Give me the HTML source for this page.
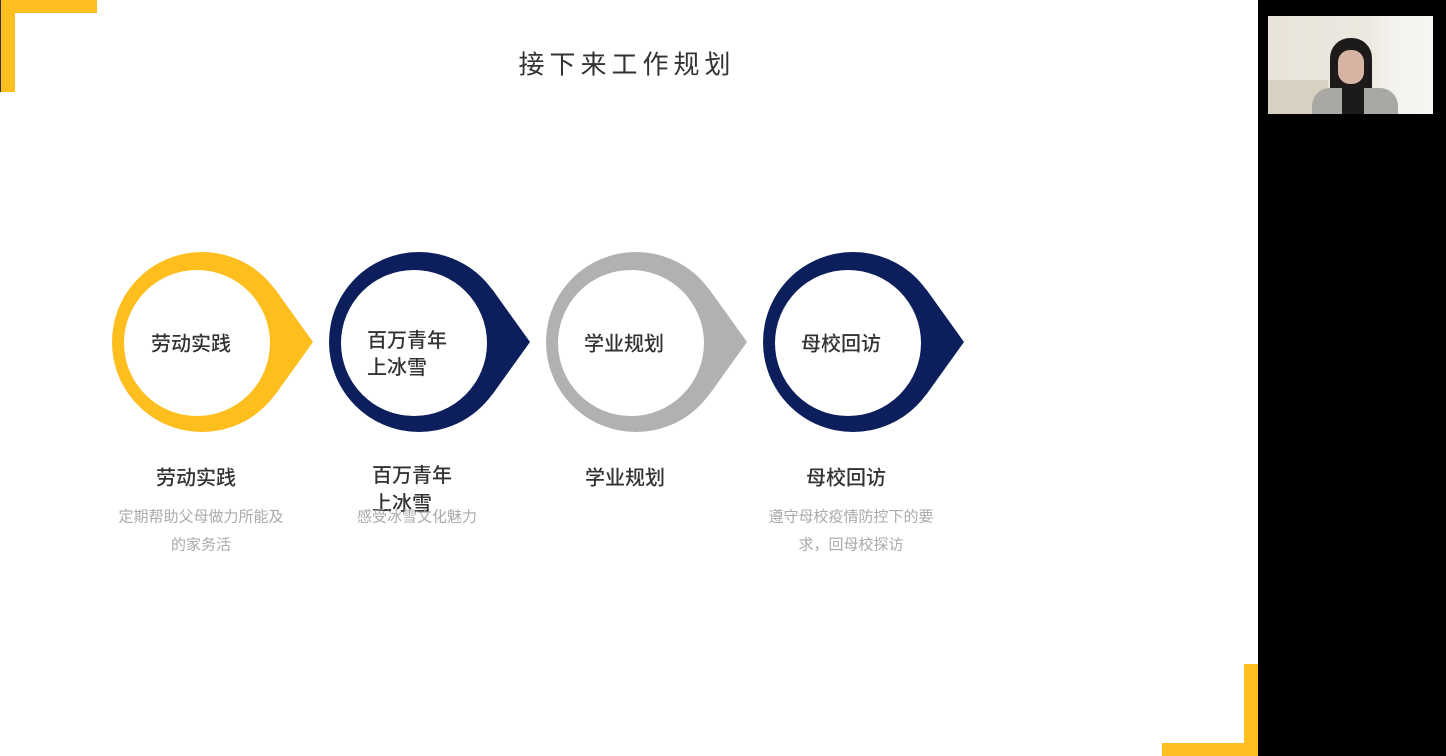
<!DOCTYPE html>
<html><head><meta charset="utf-8"><style>
body{margin:0;width:1446px;height:756px;position:relative;overflow:hidden;background:#fff;font-family:"Liberation Sans","Noto Sans CJK SC",sans-serif}
.a{position:absolute}
.t{position:absolute;white-space:nowrap;transform:translate(-50%,-50%)}
.m{font-weight:500}
</style></head><body>
<div class="a" style="left:1258px;top:0;width:188px;height:756px;background:#000"></div>
<div class="a" style="left:1268px;top:16px;width:165px;height:98px;background:linear-gradient(90deg,#e9e4da 0%,#ece8df 60%,#f4f2ee 75%,#f7f6f3 100%)"></div>
<div class="a" style="left:1268px;top:80px;width:60px;height:34px;background:#d8d0c0"></div>
<div class="a" style="left:1330px;top:38px;width:42px;height:76px;border-radius:20px 20px 0 0;background:#1d1a1a"></div>
<div class="a" style="left:1338px;top:50px;width:26px;height:34px;border-radius:12px;background:#d6b3a2"></div>
<div class="a" style="left:1312px;top:88px;width:86px;height:26px;border-radius:18px 18px 0 0;background:#a9a8a2"></div>
<div class="a" style="left:1342px;top:84px;width:22px;height:30px;background:#1d1a1a"></div>
<div class="a" style="left:0;top:0;width:1px;height:92px;background:#333"></div>
<div class="a" style="left:1px;top:0;width:14px;height:92px;background:#fdbf1f"></div>
<div class="a" style="left:1px;top:0;width:96px;height:13px;background:#fdbf1f"></div>
<div class="a" style="left:1244px;top:664px;width:14px;height:92px;background:#fdbf1f"></div>
<div class="a" style="left:1162px;top:743px;width:96px;height:13px;background:#fdbf1f"></div>
<div class="t" style="left:627px;top:63px;font-size:26px;letter-spacing:5px;color:#333">接下来工作规划</div>
<svg class="a" style="left:0;top:0" width="1258" height="756">
<g><circle cx="202" cy="342" r="90" fill="#fdbe1e"/><polygon points="275,289 313,342 275,395" fill="#fdbe1e"/><circle cx="197" cy="343" r="73" fill="#fff"/></g>
<g transform="translate(217,0)"><circle cx="202" cy="342" r="90" fill="#0c1f5c"/><polygon points="275,289 313,342 275,395" fill="#0c1f5c"/><circle cx="197" cy="343" r="73" fill="#fff"/></g>
<g transform="translate(434,0)"><circle cx="202" cy="342" r="90" fill="#b1b1b1"/><polygon points="275,289 313,342 275,395" fill="#b1b1b1"/><circle cx="197" cy="343" r="73" fill="#fff"/></g>
<g transform="translate(651,0)"><circle cx="202" cy="342" r="90" fill="#0c1f5c"/><polygon points="275,289 313,342 275,395" fill="#0c1f5c"/><circle cx="197" cy="343" r="73" fill="#fff"/></g>
</svg>
<div class="t m" style="left:191px;top:342px;font-size:20px;color:#333">劳动实践</div>
<div class="a m" style="left:367px;top:328px;font-size:20px;color:#333;line-height:27px">百万青年<br>上冰雪</div>
<div class="t m" style="left:624px;top:342px;font-size:20px;color:#333">学业规划</div>
<div class="t m" style="left:841px;top:342px;font-size:20px;color:#333">母校回访</div>
<div class="t m" style="left:196px;top:476px;font-size:20px;color:#333">劳动实践</div>
<div class="a m" style="left:372px;top:462px;font-size:20px;color:#333;line-height:28px">百万青年<br>上冰雪</div>
<div class="t m" style="left:625px;top:476px;font-size:20px;color:#333">学业规划</div>
<div class="t m" style="left:846px;top:476px;font-size:20px;color:#333">母校回访</div>
<div class="t" style="left:201px;top:516px;font-size:15px;color:#aaa">定期帮助父母做力所能及</div>
<div class="t" style="left:201px;top:544px;font-size:15px;color:#aaa">的家务活</div>
<div class="t" style="left:417px;top:516px;font-size:15px;color:#aaa">感受冰雪文化魅力</div>
<div class="t" style="left:851px;top:516px;font-size:15px;color:#aaa">遵守母校疫情防控下的要</div>
<div class="t" style="left:851px;top:544px;font-size:15px;color:#aaa">求，回母校探访</div>
</body></html>
